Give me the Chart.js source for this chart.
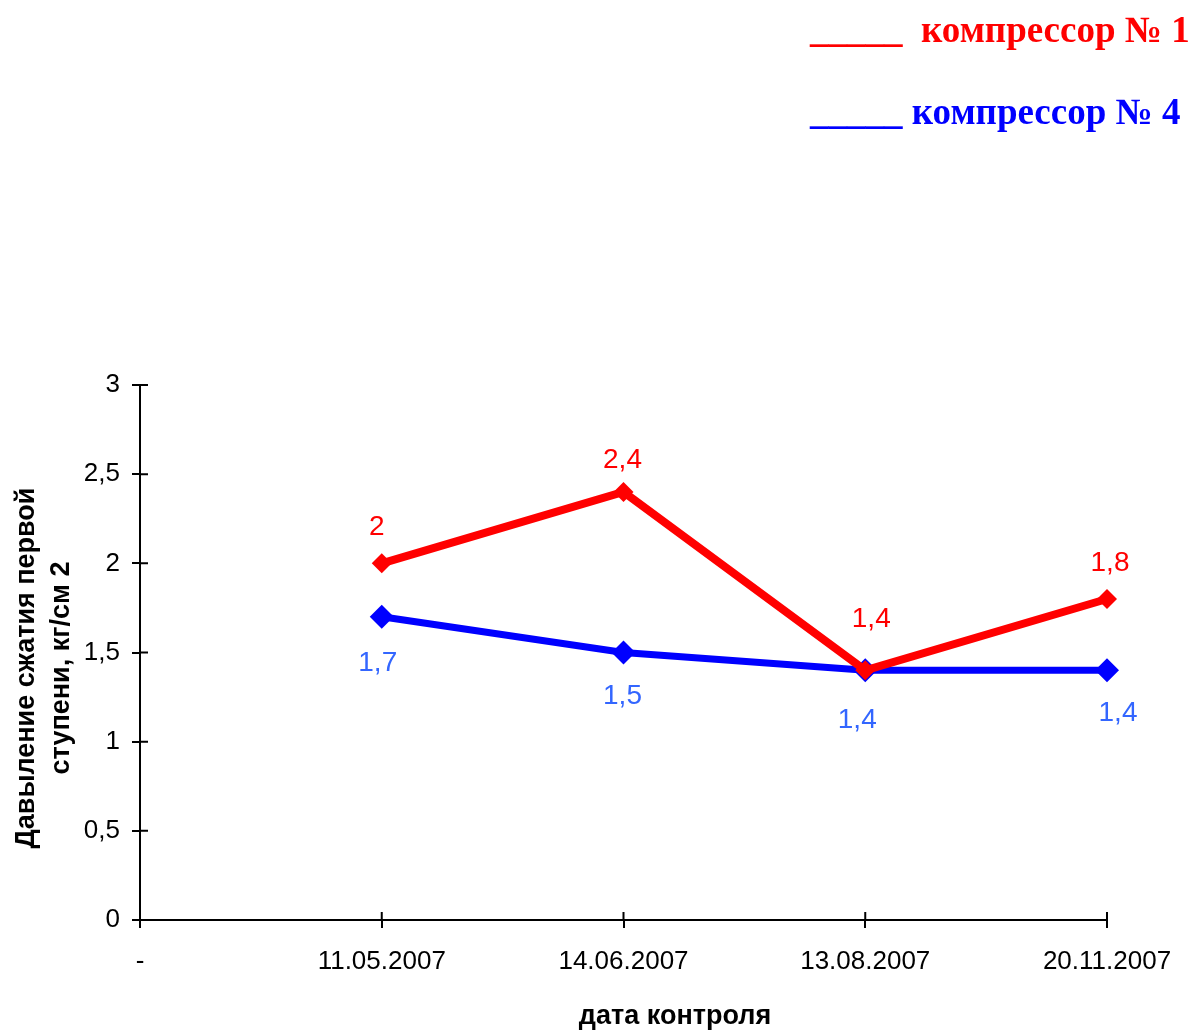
<!DOCTYPE html>
<html>
<head>
<meta charset="utf-8">
<script src="https://cdn.jsdelivr.net/npm/chart.js@4/dist/chart.umd.min.js"></script>
<style>
html,body{margin:0;padding:0;background:#fff;}
#wrap{width:1196px;height:1032px;position:relative;}
</style>
</head>
<body>
<div id="wrap"><canvas id="c" width="1196" height="1032"></canvas></div>
<script>
const categories = ['-', '11.05.2007', '14.06.2007', '13.08.2007', '20.11.2007'];
const compressor1 = [null, 2, 2.4, 1.4, 1.8];
const compressor4 = [null, 1.7, 1.5, 1.4, 1.4];
const seriesNames = ['компрессор № 1', 'компрессор № 4'];
const yTicks = [0, 0.5, 1, 1.5, 2, 2.5, 3];
const yTitle = ['Давыление сжатия первой', 'ступени, кг/см 2'];
const xTitle = 'дата контроля';

const RED = '#ff0000', BLUE = '#0000ff', BLUE_LABEL = '#3366ff';
const fmt = v => String(v).replace('.', ',');

const decor = {
  id: 'decor',
  afterDraw(chart) {
    const ctx = chart.ctx;
    const xs = chart.scales.x, ys = chart.scales.y;
    const ca = chart.chartArea;
    ctx.save();
    // inner tick halves
    ctx.strokeStyle = '#000'; ctx.lineWidth = 2;
    ctx.beginPath();
    yTicks.forEach(v => { const y = ys.getPixelForValue(v); ctx.moveTo(ca.left, y); ctx.lineTo(ca.left + 8, y); });
    categories.forEach((c, i) => { const x = xs.getPixelForValue(i); ctx.moveTo(x, ca.bottom); ctx.lineTo(x, ca.bottom - 8); });
    ctx.stroke();
    // data labels
    ctx.font = '28px "Liberation Sans", Arial, sans-serif';
    ctx.textAlign = 'center'; ctx.textBaseline = 'middle';
    const offs = [
      {color: RED, d: [null, [-5,-36], [-1,-32], [6,-51], [3,-36]]},
      {color: BLUE_LABEL, d: [null, [-4,46], [-1,44], [-8,50], [11,43]]}
    ];
    chart.data.datasets.forEach((ds, di) => {
      const meta = chart.getDatasetMeta(di);
      ctx.fillStyle = offs[di].color;
      ds.data.forEach((v, i) => {
        if (v == null) return;
        const p = meta.data[i];
        const o = offs[di].d[i];
        ctx.fillText(fmt(v), p.x + o[0], p.y + o[1]);
      });
    });
    // axis titles
    ctx.fillStyle = '#000';
    ctx.font = 'bold 27px "Liberation Sans", Arial, sans-serif';
    ctx.fillText(xTitle, 675, 1017);
    ctx.save();
    ctx.translate(0, 668);
    ctx.rotate(-Math.PI / 2);
    ctx.fillText(yTitle[0], 0, 27);
    ctx.fillText(yTitle[1], 0, 62);
    ctx.restore();
    // legend
    ctx.font = 'bold 37px "Liberation Serif", "Times New Roman", serif';
    ctx.textAlign = 'left'; ctx.textBaseline = 'alphabetic';
    ctx.fillStyle = RED;
    ctx.fillText('_____  ' + seriesNames[0], 810, 42);
    ctx.fillStyle = BLUE;
    ctx.fillText('_____ ' + seriesNames[1], 810, 124);
    ctx.restore();
  }
};

new Chart(document.getElementById('c'), {
  type: 'line',
  data: {
    labels: categories,
    datasets: [
      {label: seriesNames[0], data: compressor1, borderColor: RED, backgroundColor: RED,
       borderWidth: 8, pointStyle: 'rectRot', pointRadius: 10, pointBorderWidth: 0,
       pointBackgroundColor: RED, tension: 0},
      {label: seriesNames[1], data: compressor4, borderColor: BLUE, backgroundColor: BLUE,
       borderWidth: 7, pointStyle: 'rectRot', pointRadius: 12, pointBorderWidth: 0,
       pointBackgroundColor: BLUE, tension: 0}
    ]
  },
  options: {
    responsive: false,
    animation: false,
    layout: {padding: {top: 385, right: 89, left: 0, bottom: 0}},
    plugins: {legend: {display: false}, tooltip: {enabled: false}},
    scales: {
      x: {
        type: 'category', offset: false,
        grid: {display: true, drawOnChartArea: false, drawTicks: true, tickLength: 8, color: '#000', lineWidth: 2},
        border: {display: true, color: '#000', width: 2},
        ticks: {color: '#000', font: {size: 26, family: '"Liberation Sans", Arial, sans-serif'}, padding: 18, maxRotation: 0, autoSkip: false},
        afterFit: s => { s.height = 112; }
      },
      y: {
        min: 0, max: 3,
        afterBuildTicks: s => { s.ticks = yTicks.map(v => ({value: v})); },
        grid: {display: true, drawOnChartArea: false, drawTicks: true, tickLength: 8, color: '#000', lineWidth: 2},
        border: {display: true, color: '#000', width: 2},
        ticks: {color: '#000', font: {size: 26, family: '"Liberation Sans", Arial, sans-serif'}, padding: 12, callback: v => fmt(v)},
        afterFit: s => { s.width = 140; }
      }
    }
  },
  plugins: [decor]
});
</script>
</body>
</html>
